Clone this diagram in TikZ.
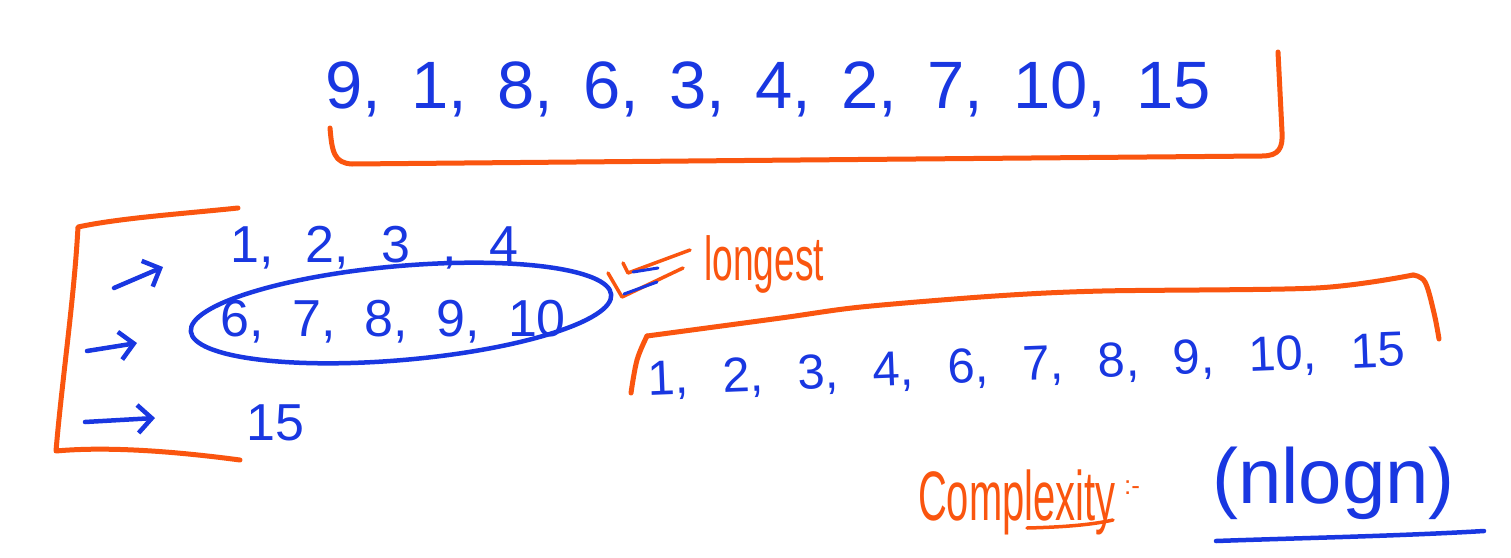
\documentclass[tikz,border=0pt]{standalone}
\usepackage{fontspec}
\setmainfont{Liberation Sans}
\usetikzlibrary{arrows.meta}
\definecolor{inkblue}{RGB}{25,55,225}
\definecolor{inkorange}{RGB}{250,85,15}

\begin{document}
\begin{tikzpicture}[x = 1pt, y = -1pt,
        blueink/.style = {draw = inkblue, line width = 4.5pt, line cap = round, line join = round},
        orangeink/.style = {draw = inkorange, line width = 5pt, line cap = round, line join = round},
        numrow/.style = {text = inkblue, anchor = base west, inner sep = 0pt},
        handarrow/.style = {blueink, -{Straight Barb[length = 14pt, width = 28pt, line width = 4.5pt]}}]

        \useasboundingbox [fill = white] (0, 0) rectangle (1511, 557);

        % Input sequence
        \node (input) [numrow, font = {\fontsize{67}{70}\selectfont\spaceskip = 0.45em\relax}]
            at (325, 108) {9, 1, 8, 6, 3, 4, 2, 7, 10, 15};
        \draw [orangeink] (330, 128) .. controls (332, 152) and (334, 163) .. (352, 164)
            -- (800, 160) -- (1262, 156) .. controls (1279, 156) and (1283, 148) .. (1282, 132)
            -- (1278, 52);

        % Runs
        \node (run1) [numrow, font = {\fontsize{52}{56}\selectfont\spaceskip = 0.62em\relax}]
            at (230, 262) {1, 2, 3 , 4};
        \node (run2) [numrow, font = {\fontsize{52}{56}\selectfont\spaceskip = 0.55em\relax}]
            at (220, 336) {6, 7, 8, 9, 10};
        \node (run3) [numrow, font = {\fontsize{52}{56}\selectfont}]
            at (246, 440) {15};

        %% Bracket round the runs
        \draw [orangeink] (238, 208) .. controls (180, 214) and (120, 218) .. (78, 227)
            .. controls (74, 300) and (62, 380) .. (56, 451)
            .. controls (110, 446) and (180, 452) .. (240, 460);

        %% Arrows
        \coordinate (a1s) at (114, 288);
        \coordinate (a1e) at (163, 267);
        \coordinate (a2s) at (87, 351);
        \coordinate (a2e) at (137, 343);
        \coordinate (a3s) at (85, 422);
        \coordinate (a3e) at (155, 418);
        \draw [handarrow] (a1s) -- (a1e);
        \draw [handarrow] (a2s) -- (a2e);
        \draw [handarrow] (a3s) -- (a3e);

        %% Longest run
        \draw [blueink, rotate around = {5:(401, 313)}] (401, 313) ellipse [x radius = 211pt, y radius = 47pt];
        \draw [orangeink, line width = 3.5pt] (623, 263) -- (628, 273) -- (690, 250);
        \draw [orangeink, line width = 3.5pt] (608, 273) -- (622, 297) -- (683, 268);
        \draw [blueink, line width = 3pt] (633, 272) -- (658, 268);
        \draw [blueink, line width = 3pt] (624, 294) -- (657, 282);
        \node (longest) [anchor = base west, inner sep = 0pt, text = inkorange, xscale = 0.6,
            font = {\fontsize{62}{66}\selectfont}] at (704, 280) {longest};

        % Merged sequence
        \node (merged) [numrow, rotate = 2.2, font = {\fontsize{49}{54}\selectfont\spaceskip = 0.7em\relax}]
            at (648, 395) {1, 2, 3, 4, 6, 7, 8, 9, 10, 15};
        \draw [orangeink] plot [smooth, tension = 0.6] coordinates {(631, 393) (637, 360) (647, 336)};
        \draw [orangeink] plot [smooth, tension = 0.5] coordinates {(647, 336) (781, 318) (861, 307)
            (995, 296) (1102, 291) (1316, 288) (1413, 275)};
        \draw [orangeink] plot [smooth, tension = 0.6] coordinates {(1413, 275) (1425, 282) (1434, 313) (1439, 339)};

        % Complexity
        \node (cplx) [anchor = base west, inner sep = 0pt, text = inkorange, xscale = 0.57,
            font = {\fontsize{70}{74}\selectfont}] at (918, 520) {Complexity};
        \node (colon) [anchor = base west, inner sep = 0pt, text = inkorange,
            font = {\fontsize{26}{28}\selectfont}] at (1124, 494) {:-};
        \draw [orangeink, line width = 3.5pt] (1027, 528) .. controls (1070, 527) and (1095, 524) .. (1113, 520);
        \node (nlogn) [anchor = base west, inner sep = 0pt, text = inkblue,
            font = {\fontsize{78}{80}\selectfont}] at (1212, 503) {(nlogn)};
        \draw [blueink] (1216, 541) .. controls (1300, 538) and (1400, 536) .. (1484, 531);

    \end{tikzpicture}
\end{document}
